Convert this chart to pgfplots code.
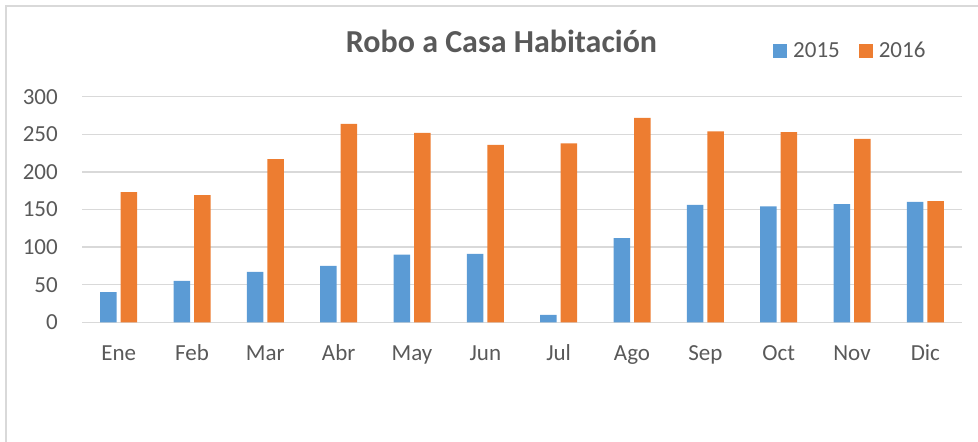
\documentclass[border=0pt]{standalone}
\usepackage{pgfplots}
\pgfplotsset{compat=1.18}
\usepackage{fontspec}
\setmainfont{Carlito}
\definecolor{b15}{HTML}{5B9BD5}
\definecolor{o16}{HTML}{ED7D31}
\definecolor{txt}{HTML}{595959}
\definecolor{grd}{HTML}{D9D9D9}
\begin{document}
\begin{tikzpicture}[x=1bp,y=1bp]
\path[use as bounding box] (0,0) rectangle (978,-442);
\draw[grd, line width=2bp] (6,-442) -- (6,-6) -- (978,-6);
\begin{axis}[
  at={(82bp,-322.3bp)}, anchor=south west,
  scale only axis, width=880bp, height=225.6bp,
  xmin=-0.5, xmax=11.5, ymin=0, ymax=300,
  ybar=4bp, bar width=16.5bp,
  xtick={0,...,11},
  xticklabels={Ene,Feb,Mar,Abr,May,Jun,Jul,Ago,Sep,Oct,Nov,Dic},
  ytick={0,50,...,300},
  ymajorgrids, grid style={grd, line width=1.5bp},
  axis line style={draw=none},
  major tick length=0pt,
  tick label style={font=\fontsize{23bp}{27bp}\selectfont, text=txt},
  yticklabel style={anchor=east, inner sep=0pt, xshift=-24bp},
  xticklabel style={anchor=base, inner sep=0pt, yshift=-38.4bp},
  /pgf/number format/assume math mode=true,
  title={Robo a Casa Habitación},
  title style={at={(0.4767,1.1702)}, anchor=base, inner sep=0pt,
    font=\fontsize{32bp}{36bp}\selectfont\bfseries, text=txt},
  legend columns=2,
  legend image code/.code={\fill[#1] (0bp,-7bp) rectangle (14bp,7bp);},
  legend style={at={(0.7852,1.2035)}, anchor=west, draw=none, fill=none,
    inner sep=0pt, font=\fontsize{23bp}{27bp}\selectfont, text=txt,
    nodes={inner sep=0pt},
    /tikz/every odd column/.append style={column sep=6bp},
    /tikz/every even column/.append style={column sep=19bp}},
]
\addplot[fill=b15, draw=none] coordinates {
 (0,40) (1,55) (2,67) (3,75) (4,90) (5,91) (6,10) (7,112) (8,156) (9,154) (10,157) (11,160)};
\addplot[fill=o16, draw=none] coordinates {
 (0,173) (1,169) (2,217) (3,264) (4,252) (5,236) (6,238) (7,272) (8,254) (9,253) (10,244) (11,161)};
\legend{2015,2016}
\end{axis}
\end{tikzpicture}
\end{document}
